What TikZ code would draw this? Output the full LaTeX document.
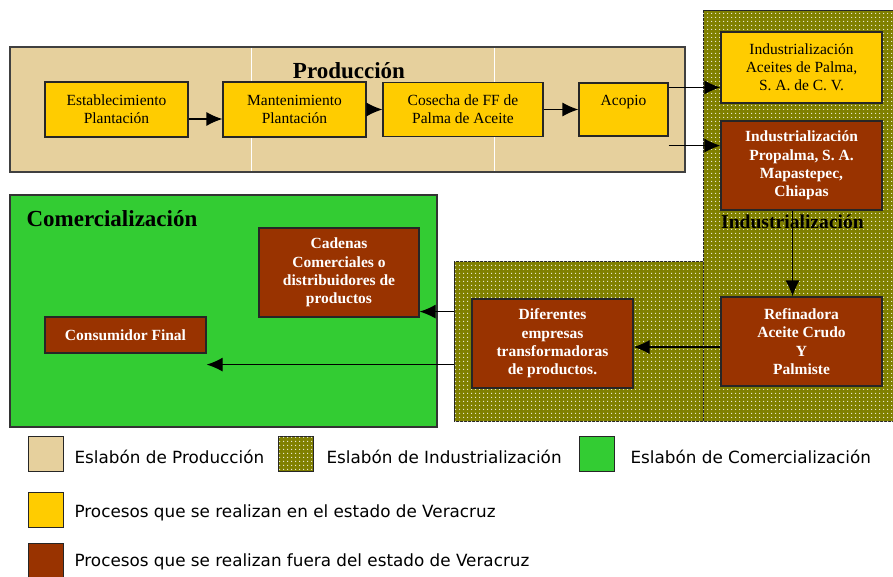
\documentclass[tikz,border=0pt]{standalone}
\usepackage{fontspec}
\setmainfont{Liberation Serif}
\newfontfamily\legfont{DejaVu Sans}
\usepackage{tikz}
\usetikzlibrary{arrows.meta}
\usetikzlibrary{calc}
\usetikzlibrary{patterns.meta}
\definecolor{trigo}{RGB}{230,208,157}
\definecolor{amarillo}{RGB}{255,204,0}
\definecolor{cafe}{RGB}{153,51,0}
\definecolor{verde}{RGB}{51,204,51}
\definecolor{olivo}{RGB}{128,128,0}
\tikzstyle{veracruz} = [draw=black!85,line width=1.2pt,fill=amarillo,inner sep=0pt,align=center,font=\fontsize{15.5}{18}\selectfont]
\tikzstyle{fuera} = [draw=black!85,line width=1.2pt,fill=cafe,text=white,inner sep=0pt,align=center,font=\fontsize{15.5}{18.3}\selectfont\bfseries]
\tikzstyle{prodzone} = [draw=black!75,line width=1.2pt,fill=trigo]
\tikzstyle{comzone} = [draw=black!80,line width=1.2pt,fill=verde]
\tikzstyle{indzone} = [draw=black!85,line width=1pt,fill=olivo,postaction={pattern={Dots[distance=4pt,radius=0.8pt]},pattern color=white!90!olivo}]
\tikzstyle{zonetitle} = [font=\fontsize{23}{26}\selectfont\bfseries,inner sep=0pt]
\tikzstyle{swatch} = [draw=black!85,line width=1pt,minimum width=35pt,minimum height=35pt,inner sep=0pt]
\tikzstyle{legtext} = [anchor=west,inner sep=0pt,font=\legfont\fontsize{16.8}{20}\selectfont]
\begin{document}
\begin{tikzpicture}[x=1pt,y=-1pt,>={Latex[length=16pt,width=14pt]},line width=1.2pt]
\useasboundingbox (0,0) rectangle (893,577);

% Draw zones
    \node[indzone,minimum width=249pt,minimum height=160pt] at (578.5,341) (indB) {};
    \node[indzone,minimum width=193pt,minimum height=410pt] at (799.5,216) (indA) {};
    \node[prodzone,minimum width=675pt,minimum height=125pt] at (347.5,109.5) (prod) {};
    \foreach \x in {251,494} {
        \draw[white,line width=0.8pt] (\x,48) -- (\x,171);
    }
    \node[comzone,minimum width=427pt,minimum height=232pt] at (223.5,311) (com) {};
    \node[zonetitle] at (349,71) (prodtitle) {Producción};
    \node[zonetitle,anchor=west] at (26,219) (comtitle) {Comercialización};

% Draw blocks
    \node[veracruz,minimum width=143pt,minimum height=55pt] at (116.5,109.5) (est) {Establecimiento\\Plantación};
    \node[veracruz,minimum width=143pt,minimum height=55pt] at (294.5,109.5) (man) {Mantenimiento\\Plantación};
    \node[veracruz,minimum width=160pt,minimum height=54pt] at (463,109.5) (cos) {Cosecha de FF de\\Palma de Aceite};
    \node[veracruz,minimum width=89pt,minimum height=53pt] at (623.5,109.5) (aco) {Acopio\\~};
    \node[veracruz,minimum width=161pt,minimum height=71pt] at (801.5,67.5) (aceites) {Industrialización\\Aceites de Palma,\\S. A. de C. V.};
    \node[fuera,minimum width=161pt,minimum height=89pt] at (801.5,165.5) (propalma) {Industrialización\\Propalma, S. A.\\Mapastepec,\\Chiapas};
    \node[font=\fontsize{19.6}{22}\selectfont\bfseries,inner sep=0pt] at (792.5,222) (indtitle) {Industrialización};
    \node[fuera,minimum width=161pt,minimum height=89pt] at (801.5,341.5) (ref) {Refinadora\\Aceite Crudo\\Y\\Palmiste};
    \node[fuera,minimum width=161pt,minimum height=89pt] at (552.5,343.5) (dif) {Diferentes\\empresas\\transformadoras\\de productos.};
    \node[fuera,minimum width=160pt,minimum height=89pt] at (339,272.5) (cad) {Cadenas\\Comerciales o\\distribuidores de\\productos};
    \node[fuera,minimum width=161pt,minimum height=36pt] at (125.5,335) (con) {Consumidor Final};

% join up
    \draw[->] ([yshift=-9.5pt]est.east) -- ([yshift=-9.5pt]man.west);
    \draw[->] (man) -- (cos);
    \draw[->] (cos) -- (aco);
    \draw[->] ([yshift=-5pt]aco.north east) coordinate (a1) -- (a1 -| aceites.west);
    \coordinate (a2) at ([yshift=-9pt]aco.south east);
    \draw[->] (a2) -- (a2 -| propalma.west);
    \draw[->] ([xshift=-9pt]propalma.south) -- ([xshift=-9pt]ref.north);
    \draw[->] ([yshift=-5.5pt]ref.west) coordinate (r1) -- (r1 -| dif.east);
    \coordinate (c1) at ([yshift=6pt]cad.south east);
    \draw[->] (c1 -| indB.west) -- (c1);
    \coordinate (c2) at ([yshift=-11pt]con.south east);
    \draw[->] (c2 -| indB.west) -- (c2);

% legend
    \node[swatch,fill=trigo] at (45.5,453.5) (lprod) {};
    \node[legtext] at (74,457) {Eslabón de Producción};
    \node[swatch,indzone] at (295.5,453.5) (lind) {};
    \node[legtext] at (326,457) {Eslabón de Industrialización};
    \node[swatch,fill=verde] at (597,453.5) (lcom) {};
    \node[legtext] at (630,457) {Eslabón de Comercialización};
    \node[swatch,fill=amarillo] at (45.5,509.5) (lver) {};
    \node[legtext] at (74,513) {Procesos que se realizan en el estado de Veracruz};
    \node[swatch,fill=cafe] at (45.5,561) (lfue) {};
    \node[legtext] at (74,562) {Procesos que se realizan fuera del estado de Veracruz};

\end{tikzpicture}
\end{document}
